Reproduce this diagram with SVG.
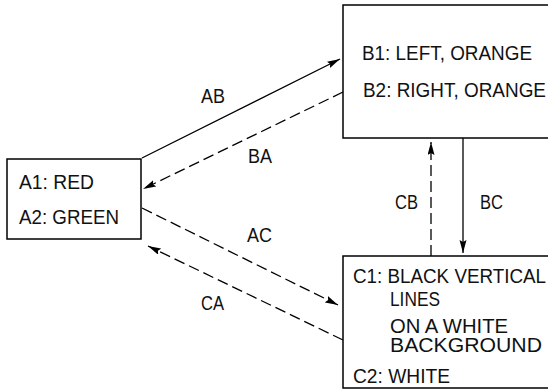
<svg xmlns="http://www.w3.org/2000/svg" width="548" height="390" viewBox="0 0 548 390">
<style>
.box{fill:#fff;stroke:#000;stroke-width:1.5}
.t{font-family:"Liberation Sans",Arial,sans-serif;font-size:20px;fill:#111}
.ln{fill:none;stroke:#000;stroke-width:1.3}
.d{stroke-dasharray:11 5}
</style>
<defs>
<marker id="ah" markerUnits="userSpaceOnUse" markerWidth="14" markerHeight="8" refX="13" refY="3.5" orient="auto">
<path d="M0,0 L13,3.5 L0,7 L2,3.5 Z" fill="#000"/>
</marker>
</defs>
<rect width="548" height="390" fill="#fff"/>
<g id="connectors">
<line class="ln" x1="142" y1="158" x2="340" y2="59" marker-end="url(#ah)"/>
<line class="ln d" x1="343" y1="92" x2="143" y2="189" marker-end="url(#ah)"/>
<line class="ln d" x1="142" y1="208" x2="338" y2="305" marker-end="url(#ah)"/>
<line class="ln d" x1="343" y1="340" x2="148" y2="246" marker-end="url(#ah)"/>
<line class="ln d" x1="431" y1="256" x2="431" y2="142" marker-end="url(#ah)"/>
<line class="ln" x1="463" y1="138" x2="463" y2="253" marker-end="url(#ah)"/>
<text class="t" x="201" y="103" textLength="24" lengthAdjust="spacingAndGlyphs">AB</text>
<text class="t" x="248" y="163" textLength="24" lengthAdjust="spacingAndGlyphs">BA</text>
<text class="t" x="247" y="242" textLength="25" lengthAdjust="spacingAndGlyphs">AC</text>
<text class="t" x="201" y="310" textLength="23" lengthAdjust="spacingAndGlyphs">CA</text>
<text class="t" x="395" y="209" textLength="23" lengthAdjust="spacingAndGlyphs">CB</text>
<text class="t" x="480" y="209" textLength="23" lengthAdjust="spacingAndGlyphs">BC</text>
</g>
<g id="nodeA">
<rect class="box" x="7" y="159" width="134" height="80"/>
<text class="t" x="19" y="189" textLength="75" lengthAdjust="spacingAndGlyphs">A1: RED</text>
<text class="t" x="19" y="224" textLength="100" lengthAdjust="spacingAndGlyphs">A2: GREEN</text>
</g>
<g id="nodeB">
<rect class="box" x="343" y="5" width="210" height="133"/>
<text class="t" x="362" y="60" textLength="170" lengthAdjust="spacingAndGlyphs">B1: LEFT, ORANGE</text>
<text class="t" x="363" y="97" textLength="183" lengthAdjust="spacingAndGlyphs">B2: RIGHT, ORANGE</text>
</g>
<g id="nodeC">
<rect class="box" x="343" y="256" width="210" height="132"/>
<text class="t" x="353" y="283" textLength="193" lengthAdjust="spacingAndGlyphs">C1: BLACK VERTICAL</text>
<text class="t" x="390" y="306" textLength="50" lengthAdjust="spacingAndGlyphs">LINES</text>
<text class="t" x="390" y="333" textLength="118" lengthAdjust="spacingAndGlyphs">ON A WHITE</text>
<text class="t" x="390" y="352" textLength="152" lengthAdjust="spacingAndGlyphs">BACKGROUND</text>
<text class="t" x="353" y="383" textLength="97" lengthAdjust="spacingAndGlyphs">C2: WHITE</text>
</g>
</svg>
